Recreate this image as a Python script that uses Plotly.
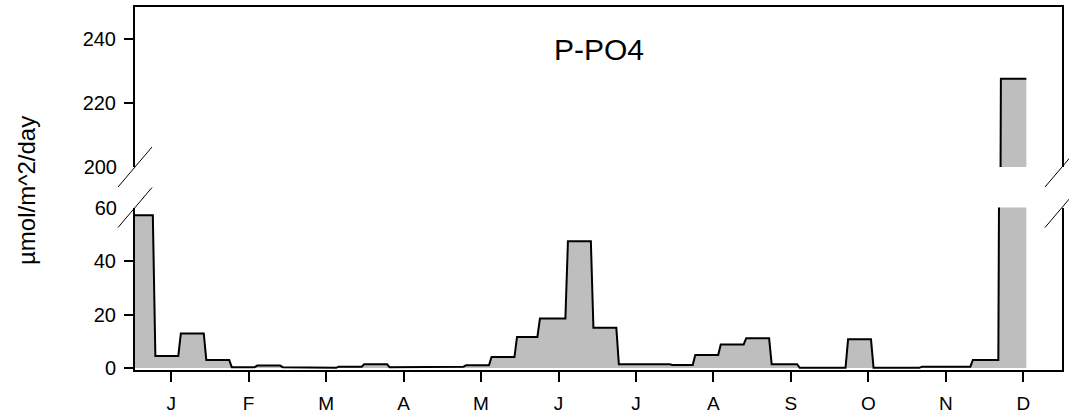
import plotly.graph_objects as go

# ---- data ----
period_start_day = [-1, 9, 19, 29, 39, 49, 59, 70, 81, 91, 101, 110, 120, 131, 141,
                    151, 160, 171, 181, 191, 202, 212, 221, 231, 241, 251, 262, 271,
                    281, 291, 301, 310, 320, 330, 341]
last_period_end_day = 351
flux_values = [57.1, 4.5, 12.9, 3.0, 0.3, 0.9, 0.3, 0.05, 0.5, 1.4, 0.25, 0.25, 0.5,
               1.0, 4.1, 11.6, 18.5, 47.4, 15.0, 1.4, 1.4, 1.1, 4.9, 8.8, 11.1, 1.4,
               0.05, 0.05, 10.7, 0.05, 0.05, 0.5, 0.5, 3.0, 227.6]
month_labels = ["J", "F", "M", "A", "M", "J", "J", "A", "S", "O", "N", "D"]
month_tick_days = [365 / 12 * (k + 0.5) for k in range(12)]
lower_ticks = [0, 20, 40]
lower_edge_tick = [60]
upper_ticks = [220, 240]
upper_edge_tick = [200]
title_text = "P-PO4"
ylabel_text = "µmol/m^2/day"

# ---- build step polyline from periods ----
period_end_day = [s - 1 for s in period_start_day[1:]] + [last_period_end_day]
xs, ys = [], []
for s, e, v in zip(period_start_day, period_end_day, flux_values):
    xs += [s, e]
    ys += [v, v]

FONT = "Liberation Sans, Arial, sans-serif"
W, H = 1069, 414
ML, MR, MT, MB = 135, 7, 7, 44
plot_h = H - MT - MB
axis_px = H - MB            # 370
low_top_px = 207.5
up_bot_px = 167.0
low_dom = [0, (axis_px - low_top_px) / plot_h]
up_dom = [(axis_px - up_bot_px) / plot_h, 1]

fig = go.Figure()
for xa, ya in (("x", "y"), ("x2", "y2")):
    fig.add_trace(go.Scatter(x=xs, y=ys, mode="lines", xaxis=xa, yaxis=ya,
                             line=dict(color="black", width=2),
                             fill="tozeroy", fillcolor="#BEBEBE",
                             showlegend=False, hoverinfo="skip"))
fig.add_trace(go.Scatter(x=[None], y=[None], xaxis="x", yaxis="y3", showlegend=False))
fig.add_trace(go.Scatter(x=[None], y=[None], xaxis="x2", yaxis="y4", showlegend=False))

tickfont = dict(family=FONT, size=20, color="black")
common_y = dict(showgrid=False, zeroline=False, showline=True, linecolor="black",
                linewidth=2, ticks="outside", ticklen=9, tickwidth=2,
                tickcolor="black", tickfont=tickfont, mirror=True,
                automargin=False, ticklabelstandoff=4)
edge_y = dict(showgrid=False, zeroline=False, showline=False, ticks="outside",
              ticklen=9, tickwidth=2, tickcolor="rgba(0,0,0,0)", tickfont=tickfont,
              side="left", automargin=False, ticklabelstandoff=4)

fig.update_layout(
    template="none",
    width=W, height=H,
    margin=dict(l=ML, r=MR, t=MT, b=MB, pad=0, autoexpand=False),
    paper_bgcolor="white", plot_bgcolor="white",
    xaxis=dict(domain=[0, 1], range=[1, 365], anchor="y", showgrid=False,
               zeroline=False, showline=True, linecolor="black", linewidth=2,
               ticks="outside", ticklen=10, tickwidth=2, tickcolor="black",
               tickvals=month_tick_days, ticktext=month_labels,
               tickfont=dict(family=FONT, size=19, color="black"),
               automargin=False, ticklabelstandoff=5),
    xaxis2=dict(domain=[0, 1], matches="x", anchor="y2", side="top", showgrid=False,
                zeroline=False, showline=True, linecolor="black", linewidth=2,
                ticks="", showticklabels=False, automargin=False),
    yaxis=dict(domain=low_dom, range=[-0.75, 60], anchor="x",
               tickvals=lower_ticks, **common_y),
    yaxis2=dict(domain=up_dom, range=[200, 250], anchor="x2",
                tickvals=upper_ticks, **common_y),
    yaxis3=dict(overlaying="y", range=[-0.75, 60], anchor="x",
                tickvals=lower_edge_tick, **edge_y),
    yaxis4=dict(overlaying="y2", range=[200, 250], anchor="x2",
                tickvals=upper_edge_tick, **edge_y),
    annotations=[
        dict(text=title_text, xref="paper", yref="paper", x=0.5,
             y=(axis_px - 50) / plot_h, xanchor="center", yanchor="middle",
             showarrow=False, font=dict(family=FONT, size=30, color="black")),
        dict(text=ylabel_text, xref="paper", yref="paper", x=(26 - ML) / (W - ML - MR),
             y=(axis_px - 191) / plot_h, xanchor="center", yanchor="middle",
             textangle=-90, showarrow=False,
             font=dict(family=FONT, size=24, color="black")),
    ],
)

# axis break marks
for xa in (0, 1):
    for ya in (low_dom[1], up_dom[0]):
        fig.add_shape(type="line", xref="paper", yref="paper",
                      xsizemode="pixel", ysizemode="pixel",
                      xanchor=xa, yanchor=ya, x0=-17, x1=17, y0=-20, y1=20,
                      line=dict(color="black", width=1))

fig.write_html("out.html")
